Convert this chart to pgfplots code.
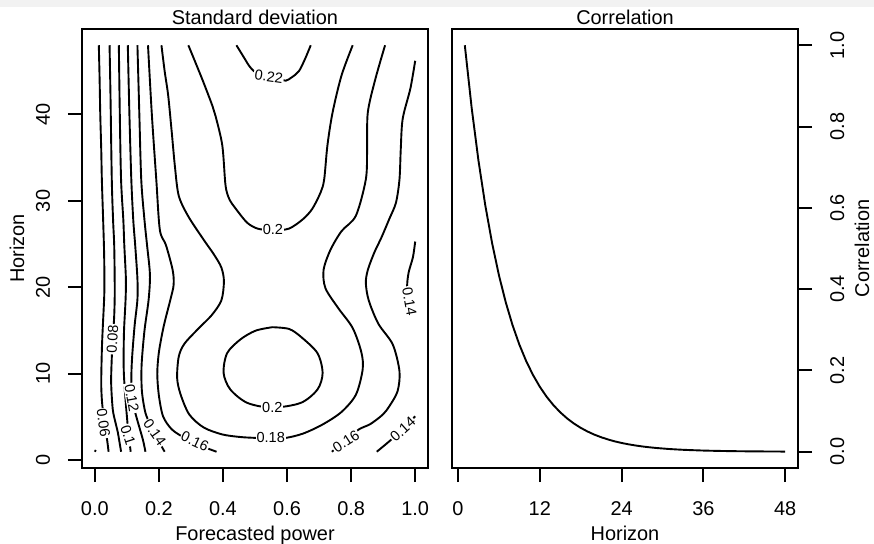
\documentclass[border=0pt]{standalone}
\usepackage{fontspec}
\setmainfont{Liberation Sans}
\usepackage{pgfplots}
\pgfplotsset{compat=1.18}
\tikzset{clab/.style={fill=white, inner sep=0.5bp, font=\fontsize{7.3}{8}\selectfont}}
\begin{document}
\fontsize{10}{12}\selectfont
\begin{tikzpicture}
\path[use as bounding box] (0bp,0bp) rectangle (437bp,272bp);
\fill[black!5] (0bp,268.5bp) rectangle (437bp,272bp);
\pgfplotsset{
  rplot/.style={
    scale only axis, width=173bp, height=219.5bp,
    axis line style={line width=1bp},
    every tick/.style={line width=1bp, black},
    major tick length=7bp,
    tick align=outside,
    /pgf/number format/assume math mode=true,
    every axis title/.style={at={(axis description cs:0.5,1)}, anchor=base, yshift=2bp, inner sep=0pt},
    every axis x label/.style={at={(axis description cs:0.5,0)}, anchor=base, yshift=-36bp, inner sep=0pt},
    xticklabel style={anchor=north, inner sep=0pt, yshift=-9.5bp},
    every axis plot/.append style={line width=0.95bp, black},
  },
}
% ---------------- left panel ----------------
\begin{axis}[rplot, at={(41bp,38bp)}, anchor=south west,
  xmin=-0.04, xmax=1.04, ymin=-0.88, ymax=49.88,
  xtick={0,0.2,0.4,0.6,0.8,1}, xticklabels={0.0,0.2,0.4,0.6,0.8,1.0},
  ytick={0,10,20,30,40}, yticklabels={0,10,20,30,40},
  xtick pos=left, ytick pos=left,
  yticklabel style={xshift=-9bp, rotate=90, anchor=base, inner sep=0pt},
  title={Standard deviation}, xlabel={Forecasted power},
  every axis y label/.style={at={(axis description cs:0,0.5)}, xshift=-29bp, rotate=90, anchor=base, inner sep=0pt},
  ylabel={Horizon},
  clip=false]
\addplot[smooth] coordinates {(0,1.0) (0.003,1.2)};
\addplot[smooth, tension=0.5] coordinates {(0.0125,48) (0.015,44) (0.017,40) (0.020,36) (0.022,32.4) (0.026,27.8) (0.029,24) (0.030,20.5) (0.029,18.6) (0.025,15.5) (0.022,12.8) (0.020,9.0) (0.022,7.0) (0.025,5.9) (0.032,4.0) (0.039,2.2) (0.043,1.0)};
\addplot[smooth, tension=0.5] coordinates {(0.046,48) (0.049,42) (0.053,32.4) (0.057,27.8) (0.0605,24.9) (0.062,21) (0.062,18.6) (0.060,16.3) (0.055,13.5) (0.053,11.9) (0.051,9.0) (0.056,5.9) (0.065,4.3) (0.072,3.2) (0.082,1.0)};
\addplot[smooth, tension=0.5] coordinates {(0.075,48) (0.078,40) (0.082,32.4) (0.089,27.8) (0.092,24.9) (0.097,21) (0.096,18.6) (0.091,14.8) (0.090,10.9) (0.093,8.5) (0.097,6.5) (0.102,4.3) (0.107,2.5) (0.112,1.0)};
\addplot[smooth, tension=0.5] coordinates {(0.103,48) (0.108,40) (0.114,32.4) (0.120,27.8) (0.126,24.9) (0.133,21) (0.133,18.6) (0.124,15.5) (0.116,11.65) (0.114,9.0) (0.118,6.8) (0.130,5.0) (0.150,2.4) (0.158,1.0)};
\addplot[smooth, tension=0.5] coordinates {(0.133,48) (0.139,40) (0.145,32.4) (0.155,27.8) (0.163,24.9) (0.172,21.5) (0.168,18.6) (0.155,15.0) (0.146,11) (0.147,8.0) (0.158,5.5) (0.175,4.0) (0.195,2.5) (0.218,1.0)};
\addplot[smooth, tension=0.5] coordinates {(0.166,48) (0.178,40) (0.192,32.4) (0.203,26.65) (0.222,24.9) (0.243,22) (0.246,20.3) (0.236,18.6) (0.215,15.5) (0.200,12.5) (0.195,10) (0.200,7.5) (0.213,5.1) (0.240,3.6) (0.28,2.6) (0.33,1.7) (0.38,1.0)};
\addplot[smooth, tension=0.5] coordinates {(0.208,48.0) (0.218,45) (0.229,42.2) (0.240,38) (0.250,34) (0.262,30.6) (0.292,28.2) (0.340,25.5) (0.372,23.8) (0.395,22.3) (0.403,20.7) (0.395,18.5) (0.365,16.8) (0.325,15.3) (0.280,13.5) (0.262,12.0) (0.257,9.5) (0.268,7.6) (0.295,5.3) (0.340,3.8) (0.398,3.0) (0.455,2.7) (0.503,2.6) (0.550,2.55) (0.596,2.6) (0.650,3.1) (0.711,4.15) (0.770,5.6) (0.815,7.6) (0.836,10.5) (0.832,12.5) (0.805,15.3) (0.760,17.6) (0.720,19.9) (0.714,22) (0.735,24.3) (0.770,26.5) (0.815,28.3) (0.846,32.5) (0.850,36) (0.852,40.2) (0.875,44) (0.906,48)};
\addplot[smooth, tension=0.5] coordinates {(0.292,48) (0.335,44.1) (0.367,41.0) (0.377,39.8) (0.398,36.4) (0.408,31.8) (0.420,30.2) (0.440,29.1) (0.475,27.5) (0.508,26.8) (0.556,26.6) (0.606,26.8) (0.650,27.9) (0.679,29.1) (0.705,31) (0.716,32.5) (0.726,36.4) (0.742,40.2) (0.770,44.5) (0.805,48)};
\addplot[smooth, tension=0.5] coordinates {(0.554,15.4) (0.502,15.0) (0.455,14.0) (0.413,12.4) (0.402,10.1) (0.423,8.2) (0.476,6.65) (0.554,6.1) (0.643,6.65) (0.695,8.2) (0.711,10.1) (0.695,12.4) (0.643,14.3) (0.606,15.2) (0.554,15.4)};
\addplot[smooth, tension=0.5] coordinates {(0.442,48) (0.462,46.8) (0.482,45.6) (0.497,45.0) (0.520,44.4) (0.545,44.1) (0.575,44.1) (0.596,43.9) (0.615,44.3) (0.637,45.0) (0.656,46.4) (0.674,48)};
\addplot[smooth, tension=0.5] coordinates {(1.0,46.2) (0.985,43) (0.961,39.5) (0.955,36) (0.951,32.5) (0.940,29.8) (0.919,27.9) (0.895,25.8) (0.872,24) (0.852,22) (0.846,20.5) (0.855,18.5) (0.885,15.8) (0.930,13.4) (0.951,10.3) (0.945,8.0) (0.920,6.3) (0.899,5.3) (0.860,4.2) (0.825,3.6) (0.785,2.4) (0.740,1.0)};
\addplot[smooth, tension=0.5] coordinates {(1.0,25.3) (0.993,23.5) (0.980,21.8) (0.975,20.3) (0.978,18.5) (0.988,16.8)};
\addplot[smooth, tension=0.5] coordinates {(0.880,1.0) (0.919,2.2) (0.961,3.6) (1.0,5.1)};
\node[clab, rotate=-82] at (axis cs:0.027,4.3) {0.06};
\node[clab, rotate=87] at (axis cs:0.055,14.0) {0.08};
\node[clab, rotate=-72] at (axis cs:0.104,2.9) {0.1};
\node[clab, rotate=-80] at (axis cs:0.115,7.2) {0.12};
\node[clab, rotate=-55] at (axis cs:0.187,3.2) {0.14};
\node[clab, rotate=-25] at (axis cs:0.3125,2.2) {0.16};
\node[clab] at (axis cs:0.549,2.6) {0.18};
\node[clab] at (axis cs:0.554,6.1) {0.2};
\node[clab] at (axis cs:0.556,26.65) {0.2};
\node[clab, rotate=-8] at (axis cs:0.543,44.4) {0.22};
\node[clab, rotate=33] at (axis cs:0.784,2.2) {0.16};
\node[clab, rotate=42] at (axis cs:0.961,3.6) {0.14};
\node[clab, rotate=-80] at (axis cs:0.982,18.4) {0.14};
\end{axis}
% ---------------- right panel ----------------
\begin{axis}[rplot, at={(226bp,38bp)}, anchor=south west,
  xmin=-0.88, xmax=49.88, ymin=-0.04, ymax=1.04,
  xtick={0,12,24,36,48}, xticklabels={0,12,24,36,48},
  ytick={0,0.2,0.4,0.6,0.8,1}, yticklabels={0.0,0.2,0.4,0.6,0.8,1.0},
  xtick pos=left, ytick pos=right, yticklabel pos=right,
  yticklabel style={xshift=16bp, rotate=90, anchor=base, inner sep=0pt},
  title={Correlation}, xlabel={Horizon},
  every axis y label/.style={at={(axis description cs:1,0.5)}, xshift=35.5bp, rotate=90, anchor=base, inner sep=0pt},
  ylabel={Correlation}]
\addplot[black, no marks, line width=0.95bp] coordinates {(1,1.0000) (2,0.8465) (3,0.7165) (4,0.6065) (5,0.5134) (6,0.4346) (7,0.3679) (8,0.3114) (9,0.2636) (10,0.2231) (11,0.1889) (12,0.1599) (13,0.1353) (14,0.1146) (15,0.0970) (16,0.0821) (17,0.0695) (18,0.0588) (19,0.0498) (20,0.0421) (21,0.0357) (22,0.0302) (23,0.0255) (24,0.0216) (25,0.0183) (26,0.0155) (27,0.0131) (28,0.0111) (29,0.0094) (30,0.0080) (31,0.0067) (32,0.0057) (33,0.0048) (34,0.0041) (35,0.0035) (36,0.0029) (37,0.0025) (38,0.0021) (39,0.0018) (40,0.0015) (41,0.0013) (42,0.0011) (43,0.0009) (44,0.0008) (45,0.0007) (46,0.0006) (47,0.0005) (48,0.0004)};
\end{axis}
\end{tikzpicture}
\end{document}
